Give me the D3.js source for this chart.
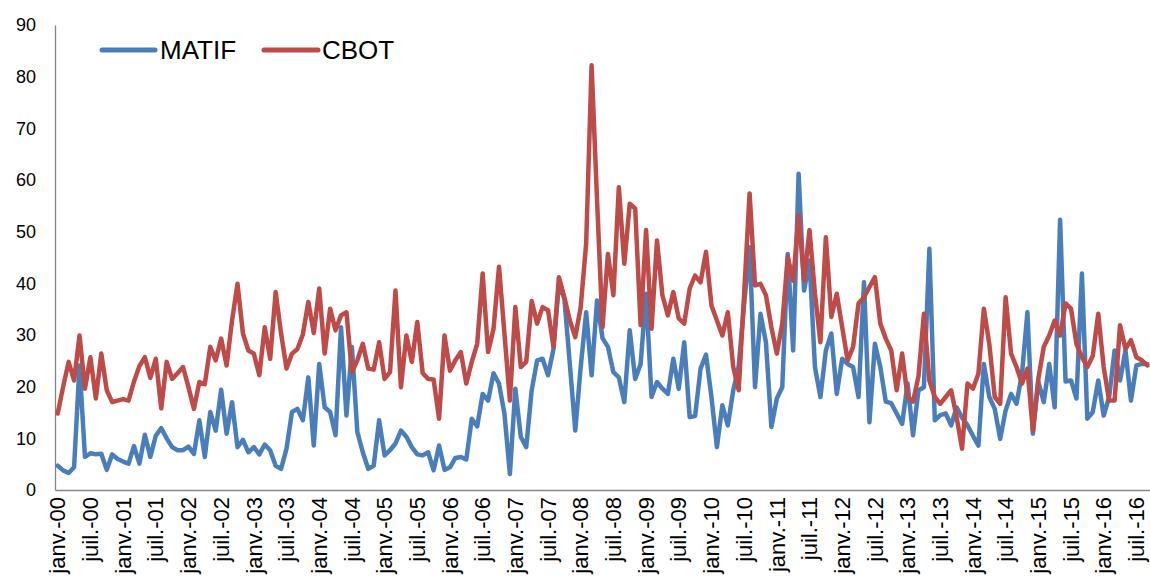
<!DOCTYPE html>
<html><head><meta charset="utf-8">
<script src="https://cdn.jsdelivr.net/npm/d3@7"></script>
<style>
html,body{margin:0;padding:0;background:#fff;}
text{font-family:"Liberation Sans",Arial,sans-serif;fill:#000;}
</style></head>
<body><svg id="c" width="1150" height="577"></svg>
<script>
// Monthly categories: janv. 2000 .. sept. 2016 (201 months)
const startDate = new Date(2000, 0, 1);
const nMonths = 201;
const categories = d3.timeMonth.range(startDate, d3.timeMonth.offset(startDate, nMonths));

const tickLabels = ["janv.-00","juil.-00","janv.-01","juil.-01","janv.-02","juil.-02","janv.-03","juil.-03",
"janv.-04","juil.-04","janv.-05","juil.-05","janv.-06","juil.-06","janv.-07","juil.-07","janv.-08","juil.-08",
"janv.-09","juil.-09","janv.-10","juil.-10","janv.-11","juil.-11","janv.-12","juil.-12","janv.-13","juil.-13",
"janv.-14","juil.-14","janv.-15","juil.-15","janv.-16","juil.-16"];

const yTicks = [0,10,20,30,40,50,60,70,80,90];

const matif = [4.7,3.8,3.3,4.4,24.1,6.4,7.1,6.9,7.0,3.9,6.9,6.0,5.5,5.1,8.5,5.1,10.7,6.4,10.5,12.0,
10.0,8.3,7.7,7.7,8.4,7.0,13.5,6.4,15.1,11.5,19.4,10.9,17.0,8.3,9.7,7.3,8.3,6.9,8.8,7.7,
4.7,4.1,8.0,15.1,15.7,13.5,21.8,8.6,24.4,16.0,15.1,10.6,31.5,14.4,27.7,11.2,7.3,4.1,4.7,13.5,
6.7,7.7,9.0,11.5,10.3,8.3,6.9,6.7,7.3,3.8,8.6,3.9,4.4,6.2,6.4,5.9,13.8,12.3,18.6,17.3,
22.6,20.6,14.8,3.1,19.6,10.3,8.3,19.3,25.1,25.4,22.2,27.3,39.9,37.0,24.4,11.5,23.8,34.4,22.2,36.7,
29.4,27.7,22.8,21.8,17.0,30.9,21.5,24.4,38.0,18.0,20.9,19.6,18.6,25.4,19.6,28.6,14.1,14.3,23.5,26.2,
18.0,8.3,16.4,12.5,19.3,24.0,36.0,47.0,19.9,34.1,28.6,12.2,17.7,19.9,45.7,27.0,61.2,38.6,44.4,23.8,
18.0,27.0,30.3,18.6,25.4,24.4,23.8,18.0,40.2,13.1,28.3,23.8,17.1,16.8,14.8,12.8,20.6,10.6,19.3,19.9,
46.7,13.5,14.5,14.8,12.5,16.0,14.0,12.5,10.5,8.6,24.4,18.0,15.7,9.9,15.4,18.6,16.7,22.5,34.4,10.9,
21.0,17.0,24.4,16.0,52.3,21.0,21.2,17.7,41.9,13.8,15.1,21.2,14.4,18.0,27.0,21.2,27.0,17.3,24.1,24.4,24.4];

const cbot = [14.8,20.0,24.8,21.2,29.9,19.6,25.7,17.7,26.4,19.3,17.0,17.3,17.6,17.3,21.0,24.0,25.7,21.7,25.4,15.8,
24.8,21.5,22.6,23.8,19.9,15.7,20.9,20.5,27.7,25.1,29.3,24.1,32.8,39.9,30.3,27.0,26.4,22.2,31.5,25.4,
38.3,30.3,23.5,26.4,27.3,30.1,36.4,30.4,39.0,26.4,35.1,30.9,33.8,34.4,22.8,25.1,28.3,23.5,23.3,28.6,
21.5,22.8,38.6,19.9,29.9,24.8,32.5,22.6,21.5,21.4,13.8,29.9,23.1,25.1,26.7,20.6,24.8,28.3,41.9,26.7,
31.2,43.2,30.3,17.3,35.4,23.8,24.8,36.6,32.2,35.4,34.8,27.7,41.2,37.3,32.8,29.6,35.4,47.7,82.2,56.1,
31.5,45.7,37.7,58.6,43.8,55.4,54.5,31.9,50.3,31.2,48.3,37.7,33.8,38.3,33.2,32.2,39.0,41.5,40.2,46.1,
35.7,32.8,29.9,34.4,23.8,19.3,38.0,57.4,39.6,39.9,37.7,31.5,26.4,32.2,45.1,40.5,53.2,40.6,50.3,38.0,
28.6,48.9,33.5,38.0,31.5,25.1,27.7,36.1,37.3,39.3,41.2,32.2,29.3,27.0,19.3,26.4,18.0,17.1,22.0,34.1,
21.2,18.0,16.7,18.0,19.3,14.1,8.0,20.6,19.6,22.5,35.1,28.3,18.0,16.7,37.3,26.4,23.8,20.6,23.5,11.5,
21.5,27.7,29.9,32.8,29.9,36.1,35.1,28.3,25.7,23.8,26.0,34.1,23.8,17.3,17.3,31.9,27.3,29.0,25.7,25.1,24.1];

const seriesNames = ["MATIF","CBOT"];
const colors = ["#4A7EBB","#BE4B48"];

const svg = d3.select("#c");
const mLeft = 55, mRight = 1150, mTop = 25, mBottom = 490;

const x = d3.scaleBand().domain(d3.range(categories.length)).range([mLeft, mRight]).padding(0);
const y = d3.scaleLinear().domain([0, 90]).range([mBottom, mTop]);
const cx = i => x(i) + x.bandwidth()/2;

// y axis
const yAxis = d3.axisLeft(y).tickValues(yTicks).tickSize(0).tickPadding(19);
const gy = svg.append("g").attr("transform", `translate(${mLeft},0)`).call(yAxis);
gy.select(".domain").attr("stroke", "#868686").attr("stroke-width", 1.3);
gy.selectAll("text").style("font-size", "18px").attr("font-family", "Liberation Sans, Arial, sans-serif");

// x axis
const xTickIdx = d3.range(0, categories.length, 6);
const xAxis = d3.axisBottom(x).tickValues(xTickIdx).tickSize(0)
  .tickFormat((d) => tickLabels[d/6]);
const gx = svg.append("g").attr("transform", `translate(0,${mBottom})`).call(xAxis);
gx.select(".domain").attr("stroke", "#868686").attr("stroke-width", 1.3);
gx.selectAll("text")
  .style("font-size", "22px")
  .attr("font-family", "Liberation Sans, Arial, sans-serif")
  .attr("text-anchor", "end")
  .attr("transform", "translate(0,7) rotate(-90)")
  .attr("x", 0).attr("y", 0).attr("dy", "0.35em");

// lines
const line = d3.line().x((d, i) => cx(i)).y(d => y(d));
[matif, cbot].forEach((s, k) => {
  svg.append("path").datum(s)
    .attr("fill", "none").attr("stroke", colors[k]).attr("stroke-width", 4.5)
    .attr("stroke-linejoin", "round").attr("stroke-linecap", "round")
    .attr("d", line);
});

// legend
const legendPos = [{x1:102, x2:155, tx:160}, {x1:264, x2:318, tx:322}];
seriesNames.forEach((n, k) => {
  const p = legendPos[k];
  svg.append("line").attr("x1", p.x1).attr("x2", p.x2).attr("y1", 50).attr("y2", 50)
    .attr("stroke", colors[k]).attr("stroke-width", 5).attr("stroke-linecap", "round");
  svg.append("text").attr("x", p.tx).attr("y", 50).attr("dy", "0.35em")
    .style("font-size", "26px").text(n);
});
</script></body></html>
